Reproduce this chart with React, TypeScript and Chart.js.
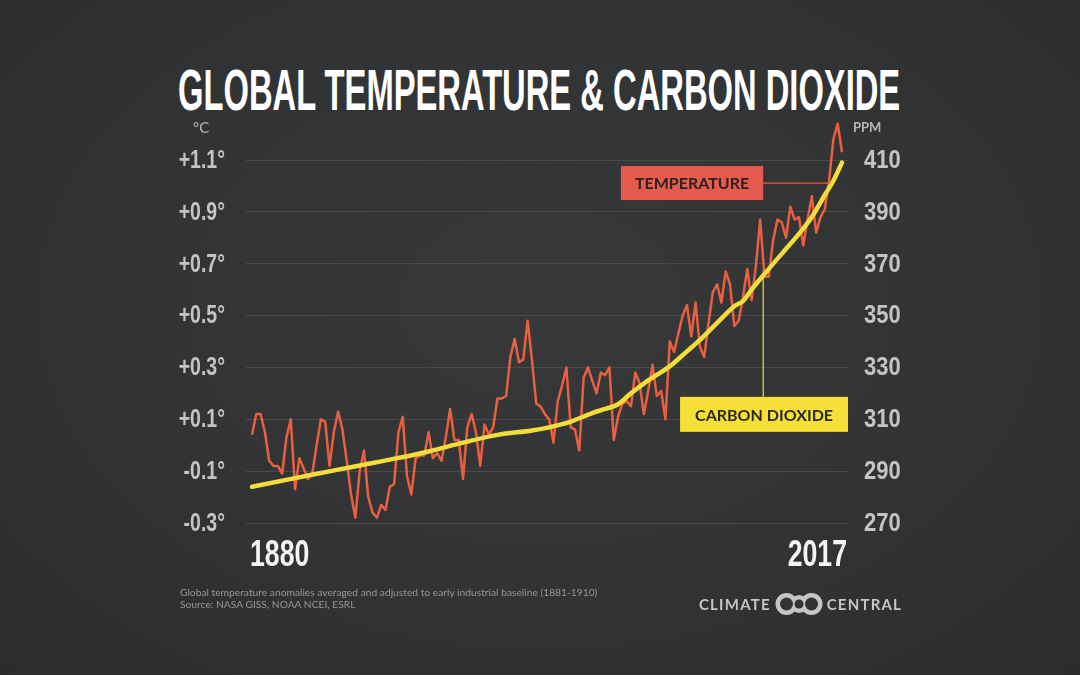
import React, { useEffect, useLayoutEffect, useRef, useState } from 'react';
import { Chart, registerables } from 'chart.js';

Chart.register(...registerables);

// ---------------- DATA ----------------
const startYear = 1880;

// Global temperature anomaly (°C, early industrial baseline), 1880–2017
const tempAnomaly = [
  0.04, 0.12, 0.12, 0.05, -0.06, -0.08, -0.08, -0.11, 0.03, 0.10,
  -0.17, -0.05, -0.09, -0.13, -0.11, 0.00, 0.10, 0.09, -0.08, 0.05,
  0.13, 0.06, -0.06, -0.19, -0.28, -0.10, -0.02, -0.20, -0.26, -0.28,
  -0.23, -0.25, -0.16, -0.15, 0.05, 0.11, -0.12, -0.19, -0.05, -0.04,
  -0.04, 0.05, -0.05, -0.03, -0.06, 0.03, 0.14, 0.02, 0.02, -0.13,
  0.07, 0.12, 0.05, -0.08, 0.08, 0.04, 0.07, 0.18, 0.18, 0.19,
  0.34, 0.41, 0.32, 0.33, 0.48, 0.33, 0.16, 0.15, 0.12, 0.10,
  0.01, 0.17, 0.23, 0.30, 0.07, 0.06, -0.02, 0.26, 0.30, 0.25,
  0.20, 0.28, 0.27, 0.30, 0.02, 0.11, 0.16, 0.17, 0.15, 0.28,
  0.24, 0.12, 0.21, 0.31, 0.19, 0.21, 0.10, 0.40, 0.36, 0.43,
  0.50, 0.54, 0.42, 0.55, 0.38, 0.34, 0.47, 0.59, 0.62, 0.55,
  0.67, 0.62, 0.46, 0.48, 0.57, 0.68, 0.56, 0.69, 0.87, 0.65,
  0.65, 0.79, 0.87, 0.86, 0.80, 0.92, 0.87, 0.88, 0.77, 0.87,
  0.96, 0.82, 0.88, 0.91, 1.02, 1.18, 1.24, 1.13,
];
const years = tempAnomaly.map((_, i) => startYear + i);

// Atmospheric CO2 (ppm)
const co2Years = [
  1880, 1890, 1900, 1906, 1914, 1921, 1929, 1937, 1945, 1949,
  1954, 1959, 1962, 1965, 1968, 1972, 1977, 1981, 1984, 1988,
  1992, 1994, 1996, 2000, 2003, 2007, 2010, 2013, 2015, 2017,
];
const co2Ppm = [
  284.0, 287.3, 290.6, 292.5, 295.1, 297.6, 301.0, 304.0, 305.7, 306.9,
  309.1, 312.4, 314.0, 315.8, 320.0, 325.0, 330.4, 336.2, 340.6, 347.2,
  353.6, 355.6, 360.0, 368.0, 373.8, 381.5, 388.0, 396.5, 402.0, 409.0,
];

const tempTicks = [-0.3, -0.1, 0.1, 0.3, 0.5, 0.7, 0.9, 1.1];
const tempTickLabels = ['-0.3°', '-0.1°', '+0.1°', '+0.3°', '+0.5°', '+0.7°', '+0.9°', '+1.1°'];
const ppmTicks = [270, 290, 310, 330, 350, 370, 390, 410];
const ppmTickLabels = ['270', '290', '310', '330', '350', '370', '390', '410'];
const xTickYears = [1880, 2017];
const xTickLabels = ['1880', '2017'];

// ---------------- STYLE ----------------
const NARROW = '"Liberation Sans Narrow", "Arial Narrow", sans-serif';
const SANS = 'Lato, "Open Sans", sans-serif';
const TEMP_COLOR = '#e8603f';
const CO2_COLOR = '#f3dd3a';
const TEMP_BOX = '#e55b4d';
const CO2_BOX = '#f5df38';
const TICK_COLOR = '#c4c4c4';

// annotation anchors in data coordinates
const tempLabel = { text: 'TEMPERATURE', value: 1.011, boxEndYear: 1998.7, leaderYear: 2014.2 };
const co2Label = { text: 'CARBON DIOXIDE', value: 311.9, leaderYear: 1998.7, leaderPpm: 365.7 };

function condensedText(ctx: any, text: string, x: number, y: number, align: string, sx: number) {
  ctx.save();
  ctx.translate(x, y);
  ctx.scale(sx, 1);
  ctx.textAlign = align;
  ctx.fillText(text, 0, 0);
  ctx.restore();
}

// draws the (condensed) tick labels of the three axes at the scales' own tick positions
const condensedTicksPlugin = {
  id: 'condensedTicks',
  afterDraw(chart: any) {
    const { ctx } = chart;
    const x = chart.scales.x;
    const y = chart.scales.y;
    const y1 = chart.scales.y1;
    ctx.save();
    ctx.textBaseline = 'middle';
    ctx.fillStyle = TICK_COLOR;
    ctx.font = `bold 25px ${NARROW}`;
    y.ticks.forEach((t: any, i: number) => {
      condensedText(ctx, tempTickLabels[i], y.right - 21, y.getPixelForValue(t.value) + 1, 'right', 0.78);
    });
    y1.ticks.forEach((t: any, i: number) => {
      condensedText(ctx, ppmTickLabels[i], y1.left + 16, y1.getPixelForValue(t.value) + 1, 'left', 0.88);
    });
    ctx.fillStyle = '#f4f4f4';
    ctx.font = `bold 36px ${NARROW}`;
    x.ticks.forEach((t: any, i: number) => {
      const px = x.getPixelForValue(t.value);
      const first = i === 0;
      condensedText(ctx, xTickLabels[i], first ? px - 2 : px + 5, x.top + 33, first ? 'left' : 'right', 0.74);
    });
    ctx.restore();
  },
};

const labelPlugin = {
  id: 'seriesLabels',
  afterDatasetsDraw(chart: any) {
    const { ctx, chartArea } = chart;
    const x = chart.scales.x;
    const y = chart.scales.y;
    const y1 = chart.scales.y1;
    ctx.save();

    // unit labels
    ctx.fillStyle = '#b8b8b8';
    ctx.textBaseline = 'middle';
    ctx.textAlign = 'left';
    ctx.font = `15px ${SANS}`;
    ctx.fillText('°C', y.right - 53, chartArea.top - 32);
    ctx.font = `bold 13px ${SANS}`;
    ctx.fillText('PPM', y1.left + 5, chartArea.top - 32);

    // temperature label
    ctx.font = `bold 16px ${SANS}`;
    const ty = y.getPixelForValue(tempLabel.value);
    const tRight = x.getPixelForValue(tempLabel.boxEndYear);
    const tw = ctx.measureText(tempLabel.text).width;
    const tbw = tw + 28;
    const tbh = 34;
    ctx.strokeStyle = TEMP_BOX;
    ctx.lineWidth = 1.2;
    ctx.beginPath();
    ctx.moveTo(tRight, ty);
    ctx.lineTo(x.getPixelForValue(tempLabel.leaderYear), ty);
    ctx.stroke();
    ctx.fillStyle = TEMP_BOX;
    ctx.fillRect(tRight - tbw, ty - tbh / 2, tbw, tbh);
    ctx.fillStyle = '#2b2222';
    ctx.textAlign = 'center';
    ctx.fillText(tempLabel.text, tRight - tbw / 2, ty + 1);

    // CO2 label
    const cy = y1.getPixelForValue(co2Label.value);
    const cRight = chartArea.right;
    const cw = ctx.measureText(co2Label.text).width;
    const cbw = cw + 30;
    const cbh = 35;
    const lx = x.getPixelForValue(co2Label.leaderYear);
    ctx.strokeStyle = CO2_BOX;
    ctx.lineWidth = 1.2;
    ctx.beginPath();
    ctx.moveTo(lx, cy - cbh / 2);
    ctx.lineTo(lx, y1.getPixelForValue(co2Label.leaderPpm));
    ctx.stroke();
    ctx.fillStyle = CO2_BOX;
    ctx.fillRect(cRight - cbw, cy - cbh / 2, cbw, cbh);
    ctx.fillStyle = '#2b2a22';
    ctx.fillText(co2Label.text, cRight - cbw / 2, cy + 1);

    ctx.restore();
  },
};

export default function App() {
  const canvasRef = useRef<HTMLCanvasElement>(null);
  const titleRef = useRef<HTMLSpanElement>(null);
  const [titleScale, setTitleScale] = useState(0.7);

  useLayoutEffect(() => {
    const el = titleRef.current;
    if (el) {
      const w = el.offsetWidth;
      if (w > 0) setTitleScale(722 / w);
    }
  }, []);

  useEffect(() => {
    const canvas = canvasRef.current;
    if (!canvas) return;
    const chart = new Chart(canvas, {
      type: 'line',
      data: {
        datasets: [
          {
            label: 'Carbon dioxide',
            data: co2Years.map((yr, i) => ({ x: yr, y: co2Ppm[i] })),
            yAxisID: 'y1',
            borderColor: CO2_COLOR,
            borderWidth: 4.5,
            pointRadius: 0,
            cubicInterpolationMode: 'monotone',
            borderCapStyle: 'round',
            borderJoinStyle: 'round',
            clip: false,
          } as any,
          {
            label: 'Temperature',
            data: years.map((yr, i) => ({ x: yr, y: tempAnomaly[i] })),
            yAxisID: 'y',
            borderColor: TEMP_COLOR,
            borderWidth: 2.5,
            pointRadius: 0,
            tension: 0,
            borderJoinStyle: 'round',
            clip: false,
          } as any,
        ],
      },
      options: {
        responsive: false,
        animation: false,
        events: [],
        layout: { padding: { top: 160, bottom: 52, left: 0, right: 0 } },
        plugins: {
          legend: { display: false },
          tooltip: { enabled: false },
          title: { display: false },
        },
        scales: {
          x: {
            type: 'linear',
            min: 1878.607,
            max: 2018.393,
            afterBuildTicks: (s: any) => {
              s.ticks = xTickYears.map((v) => ({ value: v }));
            },
            afterFit: (s: any) => {
              s.height = 100;
            },
            grid: { display: false, drawTicks: false },
            border: { display: false },
            ticks: { display: false, autoSkip: false },
          },
          y: {
            type: 'linear',
            position: 'left',
            min: -0.3,
            max: 1.1,
            afterBuildTicks: (s: any) => {
              s.ticks = tempTicks.map((v) => ({ value: v }));
            },
            afterFit: (s: any) => {
              s.width = 246;
            },
            grid: { color: '#4a4a4a', lineWidth: 1, drawTicks: false },
            border: { display: false },
            ticks: { display: false, autoSkip: false },
          },
          y1: {
            type: 'linear',
            position: 'right',
            min: 270,
            max: 410,
            afterBuildTicks: (s: any) => {
              s.ticks = ppmTicks.map((v) => ({ value: v }));
            },
            afterFit: (s: any) => {
              s.width = 232;
            },
            grid: { display: false, drawTicks: false },
            border: { display: false },
            ticks: { display: false, autoSkip: false },
          },
        },
      } as any,
      plugins: [labelPlugin, condensedTicksPlugin],
    });
    return () => chart.destroy();
  }, []);

  return (
    <div
      style={{
        position: 'absolute',
        left: 0,
        top: 0,
        width: 1080,
        height: 675,
        overflow: 'hidden',
        background: 'radial-gradient(ellipse at 50% 45%, #37383a 0%, #323334 55%, #2b2c2e 100%)',
      }}
    >
      <div
        style={{
          position: 'absolute',
          left: 178,
          top: 61,
          whiteSpace: 'nowrap',
          transform: `scaleX(${titleScale})`,
          transformOrigin: 'left top',
        }}
      >
        <span
          ref={titleRef}
          style={{
            fontFamily: NARROW,
            fontWeight: 'bold',
            fontSize: 58,
            lineHeight: '58px',
            color: '#ffffff',
            display: 'inline-block',
          }}
        >
          GLOBAL TEMPERATURE &amp; CARBON DIOXIDE
        </span>
      </div>
      <canvas ref={canvasRef} width={1080} height={675} style={{ position: 'absolute', left: 0, top: 0 }} />
      <div
        style={{
          position: 'absolute',
          left: 180,
          top: 586,
          fontFamily: SANS,
          fontSize: 10.25,
          lineHeight: '12px',
          color: '#979797',
          whiteSpace: 'nowrap',
        }}
      >
        <div>Global temperature anomalies averaged and adjusted to early industrial baseline (1881-1910)</div>
        <div>Source: NASA GISS, NOAA NCEI, ESRL</div>
      </div>
      <div
        style={{
          position: 'absolute',
          left: 699,
          top: 592,
          display: 'flex',
          alignItems: 'center',
          fontFamily: SANS,
          fontWeight: 'bold',
          fontSize: 15,
          letterSpacing: 1.2,
          color: '#c6c6c6',
          whiteSpace: 'nowrap',
        }}
      >
        <span>CLIMATE</span>
        <svg width={48} height={24} viewBox="0 0 48 24" style={{ margin: '0 4px 0 4px' }}>
          <circle cx={11.5} cy={12} r={11} fill="#c6c6c6" />
          <circle cx={36.5} cy={12} r={11} fill="#c6c6c6" />
          <circle cx={24} cy={12} r={9} fill="#c6c6c6" />
          <circle cx={11.5} cy={12} r={6.5} fill="#323334" />
          <circle cx={36.5} cy={12} r={6.5} fill="#323334" />
          <circle cx={24} cy={12} r={4.5} fill="#323334" />
        </svg>
        <span>CENTRAL</span>
      </div>
    </div>
  );
}
